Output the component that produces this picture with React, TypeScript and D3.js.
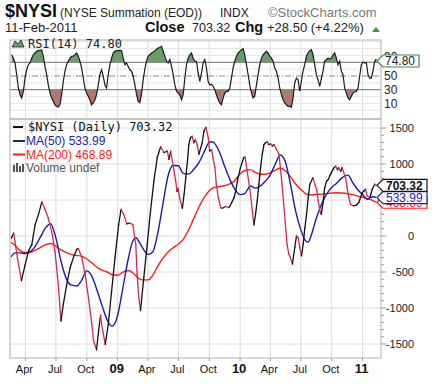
import React from "react";
import * as d3 from "d3";

const nysiDates = ["2008-02-19","2008-02-26","2008-03-08","2008-03-20","2008-03-31","2008-04-10","2008-04-20","2008-04-30","2008-05-10","2008-05-20","2008-05-30","2008-06-08","2008-06-18","2008-06-28","2008-07-08","2008-07-16","2008-07-23","2008-08-02","2008-08-12","2008-08-22","2008-09-01","2008-09-06","2008-09-16","2008-09-26","2008-10-06","2008-10-16","2008-10-21","2008-10-30","2008-11-05","2008-11-11","2008-11-14","2008-11-25","2008-12-04","2008-12-14","2008-12-24","2009-01-04","2009-01-11","2009-01-19","2009-01-28","2009-02-06","2009-02-15","2009-02-24","2009-02-28","2009-03-05","2009-03-10","2009-03-20","2009-03-30","2009-04-09","2009-04-19","2009-04-29","2009-05-09","2009-05-19","2009-05-29","2009-06-03","2009-06-08","2009-06-13","2009-06-18","2009-06-23","2009-06-27","2009-06-30","2009-07-05","2009-07-13","2009-07-18","2009-07-23","2009-07-28","2009-08-01","2009-08-06","2009-08-11","2009-08-16","2009-08-21","2009-08-26","2009-08-31","2009-09-10","2009-09-15","2009-09-21","2009-09-28","2009-10-02","2009-10-08","2009-10-12","2009-10-18","2009-10-22","2009-10-28","2009-11-04","2009-11-09","2009-11-19","2009-11-29","2009-12-07","2009-12-14","2009-12-19","2009-12-24","2010-01-02","2010-01-12","2010-01-16","2010-01-22","2010-02-01","2010-02-11","2010-02-16","2010-02-21","2010-02-26","2010-03-03","2010-03-08","2010-03-13","2010-03-18","2010-03-23","2010-03-28","2010-04-02","2010-04-07","2010-04-12","2010-04-17","2010-04-22","2010-04-27","2010-05-01","2010-05-06","2010-05-11","2010-05-16","2010-05-21","2010-05-26","2010-05-31","2010-06-06","2010-06-13","2010-06-18","2010-06-23","2010-06-28","2010-07-03","2010-07-08","2010-07-13","2010-07-18","2010-07-23","2010-07-28","2010-08-06","2010-08-12","2010-08-17","2010-08-22","2010-08-27","2010-08-31","2010-09-06","2010-09-10","2010-09-16","2010-09-21","2010-09-25","2010-09-30","2010-10-08","2010-10-13","2010-10-18","2010-10-22","2010-10-28","2010-11-01","2010-11-06","2010-11-11","2010-11-16","2010-11-21","2010-11-26","2010-12-05","2010-12-14","2010-12-21","2010-12-26","2010-12-31","2011-01-05","2011-01-10","2011-01-15","2011-01-23","2011-01-30","2011-02-06","2011-02-11"];
const nysiValues = [-30,40,-300,-620,-400,-210,-120,160,300,475,365,250,70,-210,-675,-1180,-945,-675,-445,-300,-185,-175,-300,-535,-860,-1225,-1455,-1580,-1325,-1100,-1225,-1505,-1225,-760,-300,160,370,300,170,180,160,-120,-535,-860,-1035,-575,-120,350,765,1090,1240,1160,1180,1065,1180,1045,905,760,620,660,520,385,580,810,1040,1270,1365,1385,1295,1340,1270,1135,1295,1455,1510,1365,1180,1200,1090,950,720,535,395,385,410,395,465,535,625,765,950,1090,1095,905,580,155,300,485,720,950,1135,1270,1295,1310,1270,1280,1250,1270,1225,1180,1135,950,720,440,165,-115,-250,-300,-390,-160,0,-20,-160,-275,-115,115,300,535,720,810,720,650,485,350,300,485,670,765,785,835,880,950,970,920,950,900,950,880,810,670,535,440,420,430,465,535,600,625,650,555,535,650,720,703.32];

const ma50Dates = ["2008-02-18","2008-03-01","2008-03-15","2008-04-01","2008-04-15","2008-05-01","2008-05-15","2008-06-01","2008-06-15","2008-07-01","2008-07-15","2008-08-01","2008-08-15","2008-09-01","2008-09-15","2008-10-01","2008-10-15","2008-11-01","2008-11-15","2008-12-01","2008-12-15","2009-01-01","2009-01-15","2009-02-01","2009-02-15","2009-02-25","2009-03-01","2009-03-15","2009-04-01","2009-04-15","2009-05-01","2009-05-15","2009-06-01","2009-06-15","2009-07-01","2009-07-15","2009-08-01","2009-08-15","2009-09-01","2009-09-15","2009-10-01","2009-10-09","2009-10-15","2009-11-01","2009-11-15","2009-12-01","2009-12-15","2010-01-01","2010-01-15","2010-02-01","2010-02-15","2010-03-01","2010-03-15","2010-04-01","2010-04-15","2010-05-01","2010-05-15","2010-06-01","2010-06-15","2010-07-01","2010-07-15","2010-07-23","2010-08-01","2010-08-15","2010-09-01","2010-09-15","2010-10-01","2010-10-15","2010-11-01","2010-11-19","2010-12-01","2010-12-15","2011-01-01","2011-01-15","2011-02-01","2011-02-11"];
const ma50Values = [-290,-235,-235,-245,-220,-140,-20,120,170,-30,-330,-595,-680,-695,-620,-485,-550,-760,-960,-1170,-1255,-1100,-760,-330,-70,-25,-45,-155,-255,-225,50,420,850,980,975,870,860,920,1025,1160,1300,1310,1295,1160,980,790,660,575,590,695,665,690,750,850,990,1125,1040,700,355,85,-65,-85,10,230,445,575,675,730,810,845,755,660,575,510,545,533.99];

const ma200Dates = ["2008-02-18","2008-03-01","2008-03-15","2008-04-01","2008-04-15","2008-05-01","2008-05-15","2008-06-01","2008-06-15","2008-07-01","2008-07-15","2008-08-01","2008-08-15","2008-09-01","2008-09-15","2008-10-01","2008-10-15","2008-11-01","2008-11-15","2008-12-01","2008-12-15","2009-01-01","2009-01-15","2009-02-01","2009-02-15","2009-03-01","2009-03-15","2009-04-01","2009-04-15","2009-05-01","2009-05-15","2009-06-01","2009-06-15","2009-07-01","2009-07-15","2009-08-01","2009-08-15","2009-09-01","2009-09-15","2009-10-01","2009-10-15","2009-11-01","2009-11-15","2009-12-01","2009-12-15","2010-01-01","2010-01-15","2010-02-01","2010-02-15","2010-03-01","2010-03-15","2010-04-01","2010-04-15","2010-05-01","2010-05-15","2010-06-01","2010-06-15","2010-07-01","2010-07-15","2010-08-01","2010-08-15","2010-09-01","2010-09-15","2010-10-01","2010-10-15","2010-11-01","2010-11-15","2010-12-01","2010-12-15","2011-01-01","2011-01-15","2011-02-01","2011-02-11"];
const ma200Values = [-90,-130,-200,-230,-225,-195,-160,-120,-105,-140,-190,-230,-255,-270,-280,-320,-370,-435,-475,-500,-535,-545,-505,-480,-510,-575,-610,-610,-550,-415,-315,-220,-165,-110,-50,90,235,410,530,630,672,688,698,724,765,865,910,922,885,858,857,878,912,940,910,818,725,645,590,570,576,582,588,597,600,598,591,575,557,538,520,492,468.89];

const rsiFirstDate = "2008-02-20";
const rsiLastDate = "2011-02-11";
const rsiValues = [81,76,69,52,32.5,22.7,17.9,27.7,47,59,66.5,69,76,81,83.6,86,87,87.5,88,78.8,64,52,37,25,18,13,8,5.8,4.7,8,22.7,42,57,66.5,71.5,76,78.8,78.8,81,83.6,79,71.5,61.7,47,32.5,25,20.4,15.4,8,10.6,15.4,22.7,37,52,59,49.6,37,32.5,52,66.5,76,83.6,86,87,87,87.5,87,76,66.5,69,64,59,57,49.6,37,22.7,13,11,24,45,60,72,79,81,83.6,85,87,89,91,92,93.4,86,79,71.5,69,74,64,52,37,27.7,25,22.7,15.4,22.7,47,66.5,76,81,83.6,76,71.5,71.5,
54.4,42,54,69,74,61.7,42,37,38,35,30,22.7,15.4,10.6,8,18,25,27.7,27.7,32.5,47,61.7,71.5,79,83.6,86,88.4,90,81,66.5,52,37,25,18,20.4,37,52,66.5,76,81,83.6,86,83.6,79,76,71.5,61.7,57,47,32.5,22.7,15.4,10.6,8,5.8,5.8,4.3,18,39.8,47,44.6,27.7,42,57,66.5,79,83.6,87,88.4,81,66.5,52,44.6,35,47,57,71.5,74,76,75,76,81,83.6,76,66.5,71.5,57,52,32.5,25,18,15.4,20.4,25,27,27,32.5,49.6,66.5,70.4,69,70,52,47,47,57,71.5,74.8];

const priceTicks = [1500, 1000, 500, 0, -500, -1000, -1500];
const rsiLabels = [90, 50, 30, 10];
const rsiGrid = [0, 10, 20, 40, 60, 80, 90, 100];

const FONT = "Liberation Sans, Arial, sans-serif";
const MONO = "DejaVu Sans Mono, monospace";
const UP = "#111111";
const DOWN = "#d22a52";
const BLUE = "#1c1ca6";
const RED = "#ff1a1a";

export default function App() {
  const parse = d3.timeParse("%Y-%m-%d");
  const L = 10, R = 381;
  const rsiTop = 40, rsiBot = 119, mainBot = 358;
  const x = d3.scaleTime().domain([parse("2008-02-15")!, parse("2011-02-25")!]).range([L, R]);
  const y = d3.scaleLinear().domain([-1500, 1500]).range([344, 128]);
  const yr = d3.scaleLinear().domain([0, 100]).range([110.25, 41.75]);

  const nysi = nysiDates.map((d, i) => ({ t: parse(d)!, v: nysiValues[i] }));
  const ma50 = ma50Dates.map((d, i) => ({ t: parse(d)!, v: ma50Values[i] }));
  const ma200 = ma200Dates.map((d, i) => ({ t: parse(d)!, v: ma200Values[i] }));
  const rsiT = d3.scaleLinear().domain([0, rsiValues.length - 1]).range([parse(rsiFirstDate)!.getTime(), parse(rsiLastDate)!.getTime()]);
  const rsi = rsiValues.map((v, i) => ({ t: new Date(rsiT(i)), v }));

  const maLine = d3.line<{ t: Date; v: number }>().x(d => x(d.t)).y(d => y(d.v)).curve(d3.curveMonotoneX);
  const rsiLine = d3.line<{ t: Date; v: number }>().x(d => x(d.t)).y(d => yr(d.v));
  const areaHi = d3.area<{ t: Date; v: number }>().x(d => x(d.t)).y0(yr(70)).y1(d => yr(d.v));
  const areaLo = d3.area<{ t: Date; v: number }>().x(d => x(d.t)).y0(yr(30)).y1(d => yr(d.v));

  const quarters = x.ticks(d3.timeMonth.every(3)!);
  const minor = d3.range(-1500, 1501, 100);
  const grid = "#dcdcdc";

  const last = (arr: { v: number }[]) => arr[arr.length - 1].v;
  const tag = (yc: number, w: number) =>
    `M${R - 4},${yc} L${R + 2},${yc - 6} L${R + 2 + w},${yc - 6} L${R + 2 + w},${yc + 6} L${R + 2},${yc + 6} Z`;

  return (
    <svg width={436} height={384} style={{ position: "absolute", left: 0, top: 0, background: "#fff" }}>
      <defs>
        <clipPath id="hi70"><rect x={L} y={rsiTop} width={R - L} height={yr(70) - rsiTop} /></clipPath>
        <clipPath id="lo30"><rect x={L} y={yr(30)} width={R - L} height={rsiBot - yr(30)} /></clipPath>
        <clipPath id="mainClip"><rect x={L} y={rsiBot} width={R - L} height={mainBot - rsiBot} /></clipPath>
      </defs>

      {/* Header */}
      <text x={5} y={17} fontFamily={FONT} fontWeight="bold" fontSize={18} fill="#111">$NYSI</text>
      <text x={60} y={16.5} fontFamily={FONT} fontSize={12} fill="#222">(NYSE Summation (EOD))</text>
      <text x={220} y={16.5} fontFamily={FONT} fontSize={12} fill="#222">INDX</text>
      <text x={268} y={16.5} fontFamily={FONT} fontSize={13} fill="#777">©StockCharts.com</text>
      <text x={5} y={32} fontFamily={FONT} fontSize={13} fill="#222">11-Feb-2011</text>
      <text x={145} y={32} fontFamily={FONT} fontSize={14.5} fontWeight="bold" fill="#111">Close</text>
      <text x={192} y={32} fontFamily={FONT} fontSize={12.5} fill="#222">703.32</text>
      <text x={235} y={32} fontFamily={FONT} fontSize={14.5} fontWeight="bold" fill="#111">Chg</text>
      <text x={267} y={32} fontFamily={FONT} fontSize={13} fill="#222">+28.50 (+4.22%)</text>
      <path d="M372,32 L376,27 L380,32 Z" fill="#2e9a3e" />

      {/* RSI panel */}
      {quarters.map((q, i) => (
        <line key={"rv" + i} x1={x(q)} x2={x(q)} y1={rsiTop} y2={rsiBot} stroke={grid} />
      ))}
      {rsiGrid.map(g => (
        <line key={"rg" + g} x1={L} x2={R} y1={yr(g)} y2={yr(g)} stroke="#e6e6e6" />
      ))}
      <path d={areaHi(rsi)!} fill="#6b9c6b" clipPath="url(#hi70)" />
      <path d={areaLo(rsi)!} fill="#b17672" clipPath="url(#lo30)" />
      <line x1={L} x2={R} y1={yr(70)} y2={yr(70)} stroke="#8a8a8a" strokeWidth={1.2} />
      <line x1={L} x2={R} y1={yr(30)} y2={yr(30)} stroke="#8a8a8a" strokeWidth={1.2} />
      <line x1={L} x2={R} y1={yr(50)} y2={yr(50)} stroke="#8a8a8a" strokeDasharray="6,2,1,2" />
      <path d={rsiLine(rsi)!} fill="none" stroke="#1a1a1a" strokeWidth={1.2} />
      <rect x={L} y={rsiTop} width={R - L} height={rsiBot - rsiTop} fill="none" stroke="#b0b0b0" />
      <path d="M12,47 L15,41 L18,44 L21,40 L24,47 Z" fill="#6b9c6b" stroke="#222" strokeWidth={0.8} />
      <text x={28} y={48} fontFamily={MONO} fontSize={12} fill="#222">RSI(14) 74.80</text>
      {rsiLabels.map(v => (
        <text key={"rl" + v} x={384} y={v === 90 ? 57 : yr(v)} dy="0.35em" fontFamily={FONT} fontSize={12} fill="#222">{v}</text>
      ))}
      <path d={tag(yr(last(rsi)) + 2, 36)} fill="#fff" stroke="#3f8a3f" strokeWidth={1.2} />
      <text x={385} y={yr(last(rsi)) + 2} dy="0.36em" fontFamily={FONT} fontSize={12} fill="#222">74.80</text>

      {/* Main panel grid */}
      {quarters.map((q, i) => (
        <line key={"mv" + i} x1={x(q)} x2={x(q)} y1={rsiBot} y2={mainBot} stroke={grid} />
      ))}
      {priceTicks.map(v => (
        <line key={"mh" + v} x1={L} x2={R} y1={y(v)} y2={y(v)} stroke={grid} />
      ))}

      {/* Lines */}
      <g clipPath="url(#mainClip)">
        <path d={maLine(ma200)!} fill="none" stroke={RED} strokeWidth={1.4} />
        <path d={maLine(ma50)!} fill="none" stroke={BLUE} strokeWidth={1.4} />
        {nysi.slice(1).map((d, i) => (
          <line key={"s" + i} x1={x(nysi[i].t)} y1={y(nysi[i].v)} x2={x(d.t)} y2={y(d.v)}
            stroke={d.v >= nysi[i].v ? UP : DOWN} strokeWidth={1.3} strokeLinecap="round" />
        ))}
      </g>
      <rect x={L} y={rsiBot} width={R - L} height={mainBot - rsiBot} fill="none" stroke="#b0b0b0" />

      {/* Right axis */}
      {minor.map(v => (
        <line key={"mt" + v} x1={R} x2={R + (v % 500 === 0 ? 5 : 3)} y1={y(v)} y2={y(v)} stroke="#999" />
      ))}
      {priceTicks.map(v => (
        <text key={"pl" + v} x={414} y={y(v)} dy="0.35em" textAnchor="end" fontFamily={FONT} fontSize={11} fill="#222">{v}</text>
      ))}

      {/* Legend */}
      <line x1={13} x2={23} y1={127} y2={127} stroke={UP} strokeWidth={2} />
      <text x={28} y={131} fontFamily={MONO} fontSize={12} fill="#111">$NYSI (Daily) 703.32</text>
      <line x1={13} x2={25} y1={141} y2={141} stroke={BLUE} strokeWidth={2} />
      <text x={26} y={145} fontFamily={FONT} fontSize={12} fill={BLUE}>MA(50) 533.99</text>
      <line x1={13} x2={25} y1={154.5} y2={154.5} stroke={RED} strokeWidth={2} />
      <text x={26} y={158.5} fontFamily={FONT} fontSize={12} fill={RED}>MA(200) 468.89</text>
      <rect x={13} y={165} width={2} height={7} fill="#555" />
      <rect x={16} y={163} width={2} height={9} fill="#555" />
      <rect x={19} y={166} width={2} height={6} fill="#555" />
      <rect x={22} y={164} width={2} height={8} fill="#555" />
      <text x={26} y={172} fontFamily={FONT} fontSize={12} fill="#555">Volume undef</text>

      {/* Value tags */}
      <path d={tag(y(last(ma200)), 44)} fill="#fff" stroke={RED} strokeWidth={1.2} />
      <text x={386} y={y(last(ma200))} dy="0.36em" fontFamily={FONT} fontSize={12} fill={RED}>468.89</text>
      <path d={tag(y(last(ma50)), 44)} fill="#fff" stroke={BLUE} strokeWidth={1.2} />
      <text x={386} y={y(last(ma50))} dy="0.36em" fontFamily={FONT} fontSize={12} fill={BLUE}>533.99</text>
      <path d={tag(y(last(nysi)), 44)} fill="#fff" stroke="#111" strokeWidth={1.2} />
      <text x={386} y={y(last(nysi))} dy="0.36em" fontFamily={FONT} fontSize={12} fontWeight="bold" fill="#111">703.32</text>

      {/* Bottom axis */}
      {quarters.map((q, i) => (
        <line key={"bt" + i} x1={x(q)} x2={x(q)} y1={mainBot} y2={mainBot + 3} stroke="#999" />
      ))}
      {quarters.map((q, i) => {
        const isYear = q.getMonth() === 0;
        return (
          <text key={"bl" + i} x={x(q) - 1} y={373} textAnchor="middle" fontFamily={FONT}
            fontSize={isYear ? 13 : 11} fontWeight={isYear ? "bold" : "normal"} fill="#111">
            {isYear ? d3.timeFormat("%y")(q) : d3.timeFormat("%b")(q)}
          </text>
        );
      })}
    </svg>
  );
}
